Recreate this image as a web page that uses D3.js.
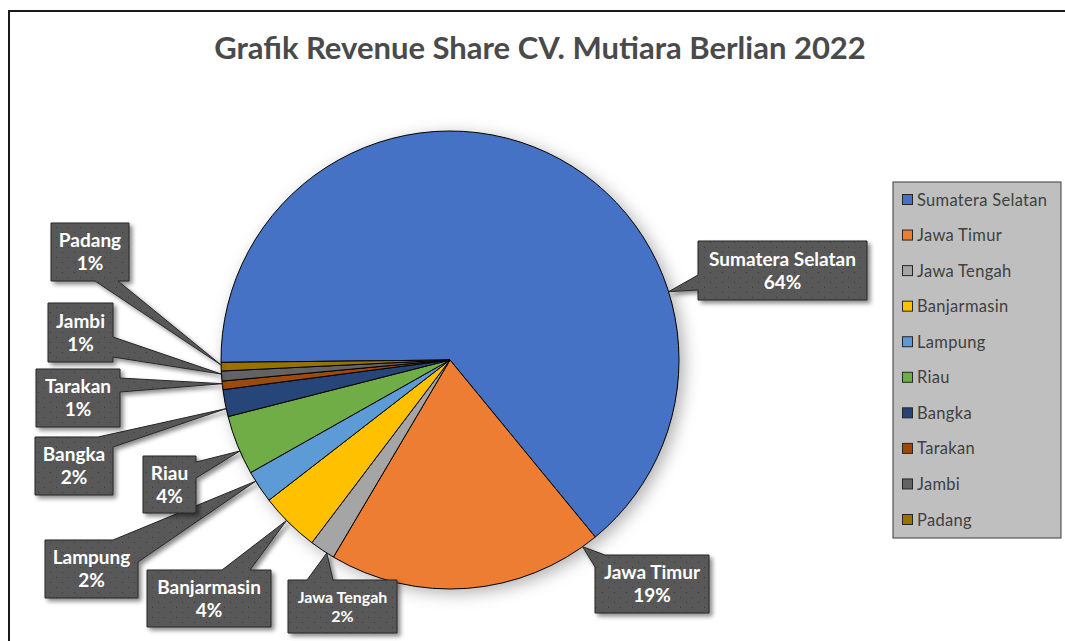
<!DOCTYPE html>
<html>
<head>
<meta charset="utf-8">
<script src="https://cdn.jsdelivr.net/npm/d3@7"></script>
<style>
  body { margin: 0; background: #fff; }
  svg { display: block; font-family: Lato, 'Open Sans', sans-serif; }
</style>
</head>
<body>
<div class="chart"></div>
<script>
const TITLE = 'Grafik Revenue Share CV. Mutiara Berlian 2022'
const regions = ['Sumatera Selatan', 'Jawa Timur', 'Jawa Tengah', 'Banjarmasin', 'Lampung', 'Riau', 'Bangka', 'Tarakan', 'Jambi', 'Padang']
const shares = [64.1, 19.4, 1.8, 4.2, 2.3, 4.2, 1.9, 0.6, 0.7, 0.6]
const COLORS = ['#4472c4', '#ed7d31', '#a5a5a5', '#ffc000', '#5b9bd5', '#70ad47', '#264478', '#9e480e', '#636363', '#997300']

// callout boxes: [x, y, w, h], pointer base points, font size
const calloutLayout = [
  { box: [698, 241, 169, 59], base: [[698, 290], [698, 275]], fs: 19 },
  { box: [595, 555, 114, 58], base: [[595, 567], [605, 555]], fs: 19 },
  { box: [288, 580, 109, 53], base: [[307, 580], [333, 580]], fs: 16 },
  { box: [147, 570, 124, 57], base: [[222, 570], [250, 570]], fs: 19 },
  { box: [45, 540, 93, 58], base: [[113, 540], [138, 562]], fs: 19 },
  { box: [143, 456, 53, 57], base: [[196, 462], [196, 478]], fs: 19 },
  { box: [35, 437, 78, 58], base: [[98, 437], [113, 447]], fs: 19 },
  { box: [36, 369, 84, 58], base: [[120, 378], [120, 392]], fs: 19 },
  { box: [48, 303, 65, 59], base: [[113, 337], [113, 357]], fs: 19 },
  { box: [51, 223, 78, 58], base: [[95, 281], [118, 281]], fs: 19 }
]

const width = 1065
const height = 641
const cx = 450
const cy = 360
const radius = 229
const startAngle = -90.6 * Math.PI / 180

const svg = d3.select('.chart').append('svg')
  .attr('width', width)
  .attr('height', height)

const defs = svg.append('defs')

const pieShadow = defs.append('filter').attr('id', 'pie-shadow')
  .attr('x', '-20%').attr('y', '-20%').attr('width', '140%').attr('height', '140%')
pieShadow.append('feDropShadow')
  .attr('dx', 5).attr('dy', 4).attr('stdDeviation', 8)
  .attr('flood-color', '#000').attr('flood-opacity', 0.3)

const boxShadow = defs.append('filter').attr('id', 'box-shadow')
  .attr('x', '-20%').attr('y', '-20%').attr('width', '150%').attr('height', '150%')
boxShadow.append('feDropShadow')
  .attr('dx', 3).attr('dy', 3).attr('stdDeviation', 2)
  .attr('flood-color', '#000').attr('flood-opacity', 0.45)

const dots = defs.append('pattern').attr('id', 'dots')
  .attr('patternUnits', 'userSpaceOnUse')
  .attr('width', 12).attr('height', 10)
dots.append('rect').attr('width', 12).attr('height', 10).attr('fill', '#595959')
dots.append('rect').attr('x', 2).attr('y', 2).attr('width', 1).attr('height', 1).attr('fill', '#3a3a3a')
dots.append('rect').attr('x', 8).attr('y', 7).attr('width', 1).attr('height', 1).attr('fill', '#3a3a3a')

// chart border
svg.append('rect')
  .attr('x', 9).attr('y', 11)
  .attr('width', width + 20).attr('height', height + 20)
  .attr('fill', '#fff')
  .attr('stroke', '#1a1a1a')
  .attr('stroke-width', 2)

// title
svg.append('text')
  .attr('x', 540)
  .attr('y', 59)
  .attr('text-anchor', 'middle')
  .attr('font-size', 31)
  .attr('font-weight', 'bold')
  .attr('fill', '#4a4a4a')
  .text(TITLE)

const total = d3.sum(shares)
const data = regions.map((name, i) => ({ name, value: shares[i], color: COLORS[i] }))

const pie = d3.pie()
  .value(d => d.value)
  .sort(null)
  .startAngle(startAngle)
  .endAngle(startAngle + 2 * Math.PI)

const arcs = pie(data)
const arc = d3.arc().innerRadius(0).outerRadius(radius)

const gPie = svg.append('g')
  .attr('transform', `translate(${cx},${cy})`)
  .attr('filter', 'url(#pie-shadow)')

gPie.selectAll('path.slice')
  .data(arcs)
  .enter().append('path')
  .attr('class', 'slice')
  .attr('d', arc)
  .attr('fill', d => d.data.color)
  .attr('stroke', '#000')
  .attr('stroke-width', 1)
  .attr('stroke-linejoin', 'round')

// callout path: box outline with a pointer going to the tip
function calloutPath (box, base, tip) {
  const [x0, y0, w, h] = box
  const x1 = x0 + w
  const y1 = y0 + h
  const per = 2 * (w + h)
  const eps = 0.5
  function sOf ([px, py]) {
    if (Math.abs(py - y0) < eps) return px - x0
    if (Math.abs(px - x1) < eps) return w + (py - y0)
    if (Math.abs(py - y1) < eps) return w + h + (x1 - px)
    return 2 * w + h + (y1 - py)
  }
  function pOf (s) {
    s = ((s % per) + per) % per
    if (s <= w) return [x0 + s, y0]
    if (s <= w + h) return [x1, y0 + s - w]
    if (s <= 2 * w + h) return [x1 - (s - w - h), y1]
    return [x0, y1 - (s - 2 * w - h)]
  }
  let s1 = sOf(base[0])
  let s2 = sOf(base[1])
  const d = ((s2 - s1) % per + per) % per
  if (d > per / 2) { const t = s1; s1 = s2; s2 = t }
  // walk from s2 clockwise round to s1
  let end = s1
  while (end <= s2) end += per
  const corners = [0, w, w + h, 2 * w + h]
  const pts = [pOf(s2)]
  const cs = []
  for (let k = 0; k < 3; k++) {
    corners.forEach(c => {
      const cc = c + k * per
      if (cc > s2 && cc < end) cs.push(cc)
    })
  }
  cs.sort((a, b) => a - b).forEach(c => pts.push(pOf(c)))
  pts.push(pOf(end))
  pts.push(tip)
  return 'M' + pts.map(p => p[0].toFixed(1) + ',' + p[1].toFixed(1)).join('L') + 'Z'
}

function tipFor (a, layout) {
  const bx = (layout.base[0][0] + layout.base[1][0]) / 2
  const by = (layout.base[0][1] + layout.base[1][1]) / 2
  let ang = Math.atan2(bx - cx, -(by - cy))
  const span = a.endAngle - a.startAngle
  const margin = Math.min(0.3 * span, 4 * Math.PI / 180)
  while (ang < a.startAngle - Math.PI) ang += 2 * Math.PI
  while (ang > a.endAngle + Math.PI) ang -= 2 * Math.PI
  ang = Math.max(a.startAngle + margin, Math.min(a.endAngle - margin, ang))
  return [cx + radius * Math.sin(ang), cy - radius * Math.cos(ang)]
}

const gLabels = svg.append('g').attr('class', 'g-labels')

arcs.forEach((a, i) => {
  const lay = calloutLayout[i]
  const tip = tipFor(a, lay)
  const g = gLabels.append('g')
  g.append('path')
    .attr('d', calloutPath(lay.box, lay.base, tip))
    .attr('fill', 'url(#dots)')
    .attr('stroke', '#262626')
    .attr('stroke-width', 1)
    .attr('filter', 'url(#box-shadow)')
  const [x0, y0, w, h] = lay.box
  const lh = lay.fs * 1.22
  const pct = Math.round(a.data.value / total * 100) + '%'
  const t = g.append('text')
    .attr('text-anchor', 'middle')
    .attr('font-size', lay.fs)
    .attr('font-weight', 'bold')
    .attr('fill', '#fff')
  t.append('tspan')
    .attr('x', x0 + w / 2)
    .attr('y', y0 + h / 2 - lh / 2 + lay.fs * 0.36)
    .text(a.data.name)
  t.append('tspan')
    .attr('x', x0 + w / 2)
    .attr('y', y0 + h / 2 + lh / 2 + lay.fs * 0.36)
    .text(pct)
})

// legend
const legend = svg.append('g').attr('transform', 'translate(893,182)')
legend.append('rect')
  .attr('width', 168).attr('height', 356)
  .attr('fill', '#bfbfbf')
  .attr('stroke', '#3a3a3a')
  .attr('stroke-width', 1)

const rowY = d3.scalePoint().domain(regions).range([18, 338])

const items = legend.selectAll('g.item')
  .data(data)
  .enter().append('g')
  .attr('class', 'item')
  .attr('transform', d => `translate(0,${rowY(d.name)})`)

items.append('rect')
  .attr('x', 9.5).attr('y', -5.5)
  .attr('width', 10).attr('height', 10)
  .attr('fill', d => d.color)
  .attr('stroke', '#262626')
  .attr('stroke-width', 1)

items.append('text')
  .attr('x', 24)
  .attr('y', 5.5)
  .attr('font-size', 16.5)
  .attr('letter-spacing', 0.3)
  .attr('fill', '#404040')
  .text(d => d.name)
</script>
</body>
</html>
